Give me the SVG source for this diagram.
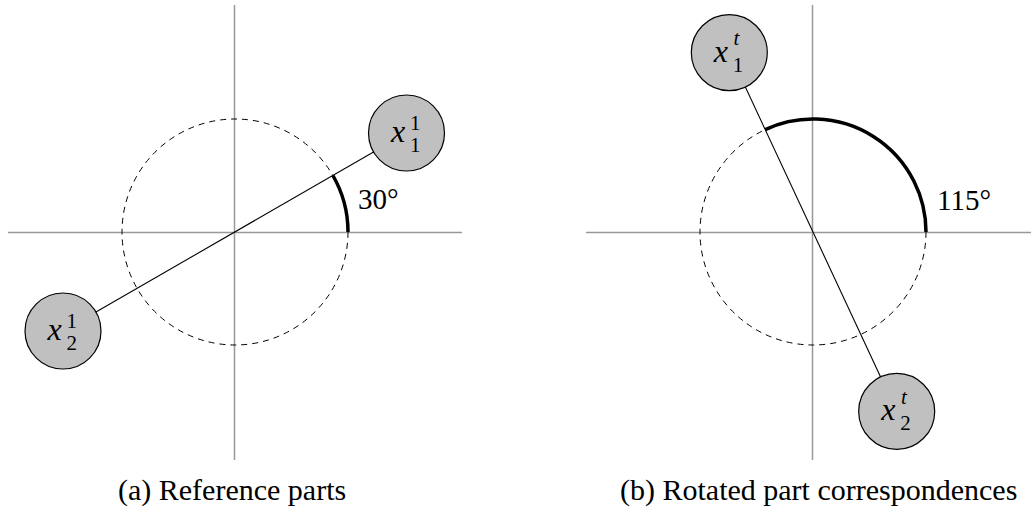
<svg xmlns="http://www.w3.org/2000/svg" width="1031" height="508" viewBox="0 0 1031 508">
<style>
.axis{stroke:#999;stroke-width:1.5;fill:none}
.dash{stroke:#000;stroke-width:1;fill:none;stroke-dasharray:6 5}
.link{stroke:#000;stroke-width:1.1;fill:none}
.arc{stroke:#000;stroke-width:3.5;fill:none}
.node{fill:#c0c0c0;stroke:#000;stroke-width:1.2}
.m{font-family:"Liberation Serif",serif;font-style:italic;font-size:32px;fill:#000}
.s{font-family:"Liberation Serif",serif;font-size:21px;fill:#000}
.si{font-family:"Liberation Serif",serif;font-style:italic;font-size:21px;fill:#000}
.lab{font-family:"Liberation Serif",serif;font-size:29px;fill:#000}
.cap{font-family:"Liberation Serif",serif;font-size:30px;fill:#000}
</style>
<rect width="1031" height="508" fill="#fff"/>
<g id="axes">
<line class="axis" x1="8" y1="232.5" x2="462" y2="232.5"/>
<line class="axis" x1="234.5" y1="5" x2="234.5" y2="460"/>
<line class="axis" x1="586" y1="232.5" x2="1040" y2="232.5"/>
<line class="axis" x1="812.5" y1="5" x2="812.5" y2="460"/>
</g>
<g id="circles">
<circle class="dash" cx="235" cy="232" r="113"/>
<circle class="dash" cx="813" cy="232" r="113"/>
</g>
<g id="connectors">
<line class="link" x1="63" y1="331" x2="406.5" y2="133"/>
<line class="link" x1="729.3" y1="52.6" x2="896.7" y2="411.4"/>
<path class="arc" d="M348,232 A113,113 0 0 0 332.9,175.5"/>
<path class="arc" d="M926,232 A113,113 0 0 0 765.2,129.6"/>
</g>
<g id="node-x11">
<circle class="node" cx="406.5" cy="133" r="38"/>
<text class="m" x="391" y="142">x</text>
<text class="s" x="410" y="130">1</text>
<text class="s" x="410" y="152">1</text>
</g>
<g id="node-x21">
<circle class="node" cx="63" cy="331" r="38"/>
<text class="m" x="47.5" y="340">x</text>
<text class="s" x="66.5" y="328">1</text>
<text class="s" x="66.5" y="350">2</text>
</g>
<g id="node-x1t">
<circle class="node" cx="729.3" cy="52.6" r="38"/>
<text class="m" x="713.8" y="61.6">x</text>
<text class="si" x="733.5" y="45">t</text>
<text class="s" x="732.8" y="71.6">1</text>
</g>
<g id="node-x2t">
<circle class="node" cx="896.7" cy="411.4" r="38"/>
<text class="m" x="881.2" y="420.4">x</text>
<text class="si" x="900.9" y="403.8">t</text>
<text class="s" x="900.2" y="430.4">2</text>
</g>
<g id="labels">
<text class="lab" x="358" y="209">30°</text>
<text class="lab" x="937" y="210">115°</text>
<text class="cap" x="118" y="500">(a) Reference parts</text>
<text class="cap" x="620" y="500">(b) Rotated part correspondences</text>
</g>
</svg>
